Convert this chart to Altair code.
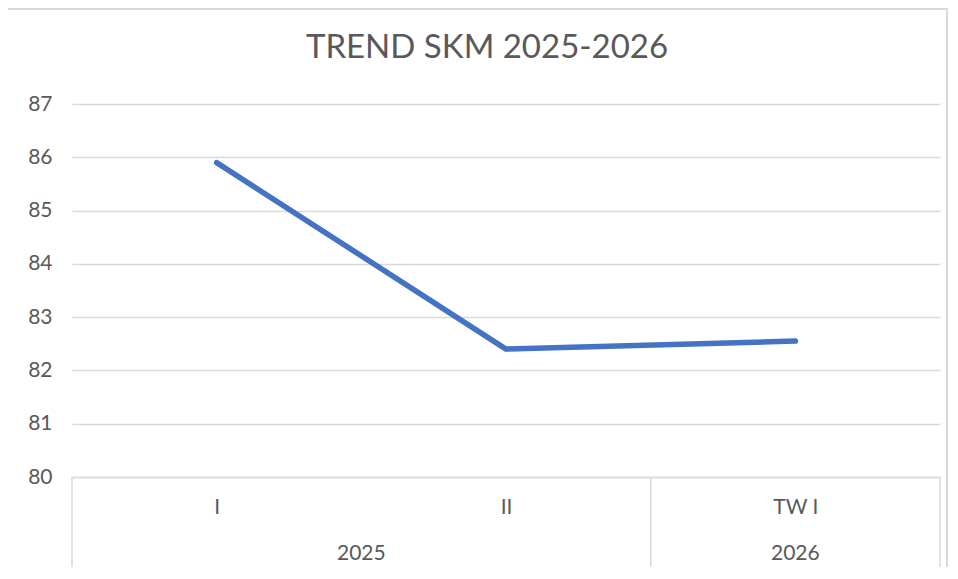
import altair as alt
import pandas as pd

# ---- data ----
categories = ["I", "II", "TW I"]
values = [85.9, 82.4, 82.55]
years = ["2025", "2025", "2026"]
y_ticks = [80, 81, 82, 83, 84, 85, 86, 87]
title_text = "TREND SKM 2025-2026"

# ---- derived tables ----
pos = [i + 0.5 for i in range(len(categories))]
line_df = pd.DataFrame({"cat": categories, "pos": pos, "value": values, "year": years})

groups = []
seps = [0]
start = 0
for i in range(1, len(years) + 1):
    if i == len(years) or years[i] != years[start]:
        groups.append({"year": years[start], "center": (start + i) / 2})
        seps.append(i)
        start = i
group_df = pd.DataFrame(groups)
sep_df = pd.DataFrame({"x": seps})

label_expr = " : ".join(
    [f"datum.value == {p} ? '{c}'" for p, c in zip(pos[:-1], categories[:-1])]
) + f" : '{categories[-1]}'"

W, H = 868, 373
FONT = "Lato"
TXT = "#595959"
GRID = "#d9d9d9"

xscale = alt.Scale(domain=[0, len(categories)], nice=False, zero=False)

line = alt.Chart(line_df).mark_line(
    color="#4472C4", strokeWidth=5.5, strokeCap="round", strokeJoin="round"
).encode(
    x=alt.X("pos:Q", scale=xscale, axis=alt.Axis(
        values=pos, labelExpr=label_expr, grid=False, ticks=False, tickSize=0,
        domainColor=GRID, domainWidth=1.5, labelPadding=30, labelBaseline="middle",
        labelFontSize=21, labelColor=TXT, labelFont=FONT, title=None,
        labelFlush=False, labelOverlap=False)),
    y=alt.Y("value:Q", scale=alt.Scale(domain=[80, 87], nice=False, zero=False),
            axis=alt.Axis(values=y_ticks, grid=True, gridColor=GRID, gridWidth=1.5,
                          domain=False, ticks=False, tickSize=0, labelPadding=20,
                          labelFontSize=21, labelColor=TXT, labelFont=FONT,
                          title=None)),
)

seps_rule = alt.Chart(sep_df).mark_rule(color=GRID, strokeWidth=1.5).encode(
    x=alt.X("x:Q", scale=xscale),
    y=alt.value(H),
    y2=alt.value(H + 92),
)

year_text = alt.Chart(group_df).mark_text(
    font=FONT, fontSize=21, color=TXT, baseline="middle", align="center"
).encode(
    x=alt.X("center:Q", scale=xscale),
    y=alt.value(H + 77),
    text="year:N",
)

title = alt.Chart(pd.DataFrame({"t": [title_text]})).mark_text(
    font=FONT, fontSize=33, color=TXT, baseline="middle", align="center"
).encode(
    x=alt.value(W / 2 - 19),
    y=alt.value(-56),
    text="t:N",
)

frame = alt.Chart(pd.DataFrame({"a": [0]})).mark_rect(
    fill=None, stroke=GRID, strokeWidth=2
).encode(
    x=alt.value(-65),
    x2=alt.value(W + 7),
    y=alt.value(-95),
    y2=alt.value(H + 110),
)

chart = alt.layer(frame, seps_rule, line, year_text, title).properties(
    width=W,
    height=H,
    autosize=alt.AutoSizeParams(type="none"),
    padding={"left": 64, "top": 96, "right": 8, "bottom": 90},
    background="white",
).configure_view(stroke=None)

chart.save("out.html", embed_options={"renderer": "svg", "actions": False})
